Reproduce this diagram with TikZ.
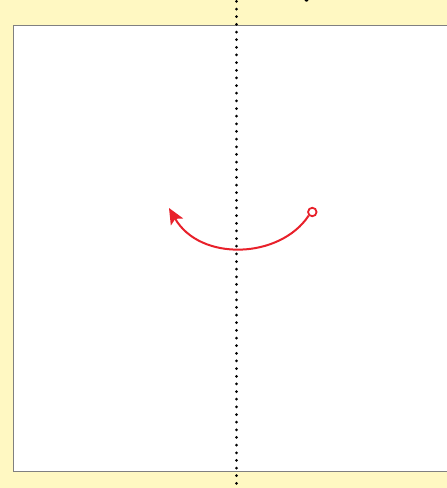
\documentclass[tikz,border=0pt]{standalone}
\usetikzlibrary{arrows.meta}
\definecolor{bgyellow}{HTML}{FFF8C2}
\definecolor{framegray}{HTML}{808080}
\definecolor{arcred}{HTML}{E8202A}
\tikzset{
  sheet/.style={fill=white,draw=framegray,line width=1pt},
  foldline/.style={line width=3pt,line cap=round,dash pattern=on 0pt off 7.65pt,black},
  movearrow/.style={draw=arcred,line width=2pt,-{Stealth[length=16pt,width=14pt,inset=3.5pt]}},
  startdot/.style={circle,draw=arcred,fill=white,line width=1.8pt,minimum size=8.5pt,inner sep=0pt}
}
\begin{document}
\begin{tikzpicture}[x=1pt,y=-1pt]
\useasboundingbox (0,0) rectangle (447,488);
\fill[bgyellow] (0,0) rectangle (447,488);
\begin{scope}
\clip (0,0) rectangle (447,488);
\draw[sheet] (13.5,25.5) rectangle (460,471.5);
\fill[black] (306.5,-0.3) circle (2pt);
\end{scope}
\coordinate (ftop) at (236.5,1.4);
\coordinate (fbot) at (236.5,488);
\draw[foldline] (ftop) -- (fbot);
\node[startdot] (s) at (312.3,212) {};
\coordinate (e) at (169,208);
\draw[movearrow] (s.225) .. controls (280,259) and (200,262) .. (e);
\end{tikzpicture}
\end{document}
